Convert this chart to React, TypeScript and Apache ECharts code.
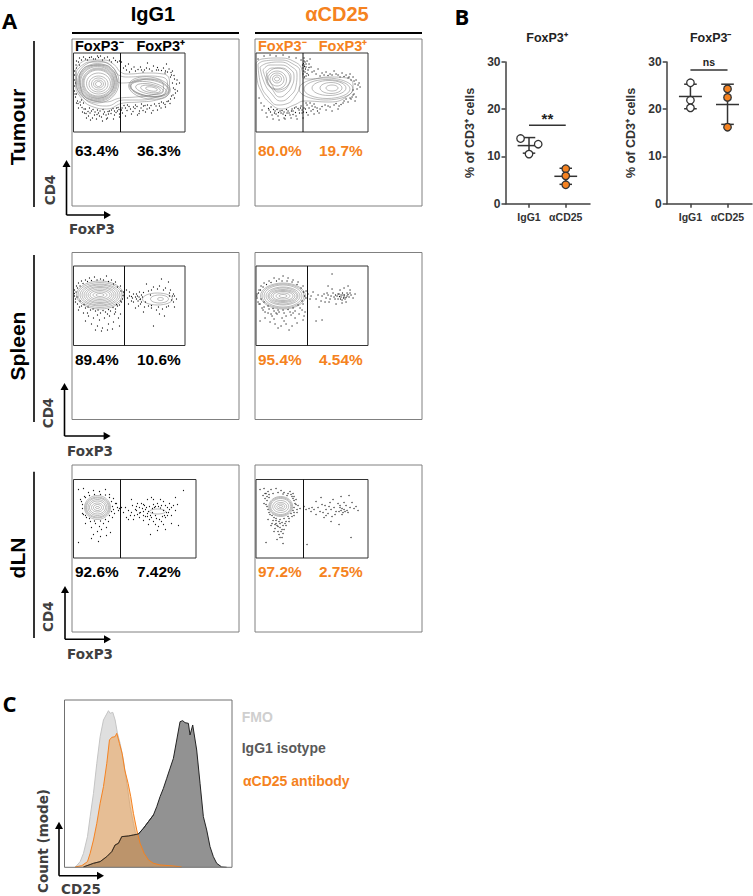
import React, { useEffect, useRef } from "react";
import * as echarts from "echarts";

const ORANGE = "#f58220";
const SANS = "'Liberation Sans', Arial, sans-serif";
const DV = "'DejaVu Sans', sans-serif";
const LETTER = "'Open Sans', sans-serif";

// ---------- Panel B values ----------
const groupLabels = ["IgG1", "αCD25"];
const posIgG1 = [[0.77, 13.8], [1.25, 12.6], [1, 10.5]];
const posCD25 = [[2, 7.4], [2, 5.9], [2, 4.0]];
const negIgG1 = [[1, 25.6], [1, 21.9], [1, 20.3]];
const negCD25 = [[2, 24.3], [2, 22.5], [2, 16.2]];
const posStats = [[1, 12.3, 10.7, 14.0], [2, 5.8, 4.1, 7.5]];
const negStats = [[1, 22.7, 20.1, 25.3], [2, 21.0, 16.8, 25.3]];
const posSig = [[1, 16.6], [2, 16.6]];
const negSig = [[1, 28.3], [2, 28.3]];

// ---------- Panel C histograms ----------
const histFMO = [[32,0],[47,17],[57,42],[69,92],[77,152],[87,222],[97,312],[107,392],[117,442],[125,457],[132,470],[137,462],[145,465],[152,442],[159,402],[167,372],[177,322],[187,252],[197,182],[207,132],[217,82],[227,42],[237,17],[252,2],[267,0]];
const histCD25 = [[32,1],[52,5],[69,17],[77,42],[87,82],[97,132],[107,192],[117,242],[127,312],[135,382],[142,390],[152,392],[157,402],[165,372],[173,342],[181,292],[191,252],[199,212],[207,162],[217,112],[227,72],[239,42],[252,22],[267,12],[287,7],[327,4],[352,1]];
const histIso = [[57,1],[87,12],[107,17],[127,32],[142,47],[152,67],[162,72],[172,92],[192,94],[207,97],[222,100],[237,117],[252,137],[267,157],[277,182],[287,212],[297,237],[307,267],[317,297],[327,327],[337,382],[347,437],[355,440],[362,434],[372,432],[377,397],[385,427],[397,352],[407,252],[417,152],[427,112],[437,62],[447,32],[457,12],[472,1],[487,0]];

// ---------- Panel A: percentages ----------
const pctLabels = [
  ["63.4%", "36.3%"], ["80.0%", "19.7%"],
  ["89.4%", "10.6%"], ["95.4%", "4.54%"],
  ["92.6%", "7.42%"], ["97.2%", "2.75%"],
];

// ---------- Panel A: contour rings [cx, cy, rx, ry, rotationDeg] and loops, event dots ----------
const ringsTumIgG = [[25,31,3,2.5,0],[25,31,5,4,0],[25,31,7,6,0],[25,31,9.5,8,0],[25,30.5,12,10.5,0],[24.5,30,14,13,0],[24.5,30,15,14,0],[24.5,30,16,15,0],[24,29.5,17,16,0],[24,29.5,18,17,0],[24,29.5,19,18,0],[24,29.5,20,19,0],[24,29,21.5,21,0],[78,36,6,2,-10],[77,36,10,3.5,-10],[76,36,14,5,-10],[75,36,18,7,-10],[76,35,19,8,-8],[76,35,20,9,-8],[76,35,21,11,-8]];
const loopsTumIgG = [
  [[2,17],[7,10],[17,7],[30,7],[41,12],[47,19],[55,21],[73,20],[90,21],[96,29],[95,40],[83,47],[66,49],[50,50],[33,56],[20,54],[7,44],[2,30],[2,17]],
  [[3,18],[9,12],[17,9],[30,9],[39,14],[45,22],[55,24],[73,23],[88,24],[94,30],[92,39],[80,45],[65,47],[50,47],[33,53],[20,51],[8,42],[3,30],[3,18]],
  [[6,22],[14,13],[30,12],[40,18],[47,30],[60,29],[75,26],[88,28],[90,36],[78,42],[62,44],[47,45],[32,49],[18,47],[8,38],[6,22]],
];
const dotsTumIgG = [[3,8],[6,5],[10,4],[14,7],[18,4],[22,6],[27,3],[31,5],[36,7],[40,5],[44,9],[47,13],[50,15],[53,17],[58,16],[62,18],[67,14],[71,17],[76,16],[80,13],[85,17],[90,15],[94,19],[98,22],[101,26],[99,18],[103,31],[100,35],[104,38],[98,43],[101,45],[95,48],[90,50],[86,53],[81,51],[76,55],[70,53],[66,58],[62,52],[57,56],[52,55],[49,60],[47,53],[44,58],[41,62],[38,57],[35,61],[31,59],[28,64],[25,60],[21,62],[18,58],[15,63],[12,56],[9,59],[7,52],[4,48],[2,44],[1,38],[5,55],[10,50],[13,65],[17,67],[23,66],[29,68],[34,65],[40,66],[46,64],[52,63],[58,61],[64,62],[72,59],[78,60],[84,57],[92,54],[2,30],[1,22],[3,15],[106,30],[93,11],[74,10],[55,11],[11,60],[16,55],[24,57],[30,61],[36,58],[43,55],[48,57],[54,52],[60,54],[68,51],[74,52],[88,49],[97,46],[102,40],[99,30],[97,24],[92,18],[83,17],[68,17],[48,9],[38,9],[24,3],[6,12],[8,47],[3,41],[19,65],[33,66],[41,58],[46,61],[26,63],
  [4.5,50.5],[6.5,49],[8.5,54.5],[10.5,56],[12.5,60.5],[14.5,58.5],[16.5,60],[19.5,56.5],[21.5,59],[23.5,61.5],[26.5,58],[29.5,56.5],[32.5,62],[34.5,58.5],[37.5,60.5],[39.5,55.5],[42.5,59.5],[44.5,54.5],[45.5,56.5],[48.5,55],[50.5,52.5],[53.5,57.5],[55.5,53.5],[59.5,58.5],[61.5,55.5],[63.5,53.5],[65.5,60.5],[67.5,55],[69.5,57.5],[71.5,52.5],[73.5,56],[77.5,52.5],[79.5,57.5],[82.5,53],[85.5,50.5],[87.5,55],[91.5,51.5],[93.5,48.5],[96.5,50.5],[99.5,42],[101.5,36.5],[103.5,27],[100.5,22.5],[97.5,19.5],[95.5,16],[91.5,20],[88,17.5],[84,14.5],[78.5,18],[73,15],[69.5,19],[64.5,16.5],[60.5,14],[56,19],[52,13],[46,8],[42,7.5],[34,4],[29,7],[25,4.5],[20,6],[16,4.5],[12,6],[8,7],[5,9],[2.5,12],[1,18],[0.8,27],[0.8,33],[1.5,41],[3,50]];

const ringsTumCD = [[21,26,2.5,2,0],[21,26,4.5,4,0],[21,26.5,7,6.5,0],[21,27,9.5,9,0],[22,26,12,11,0],[76,35,6,3,0],[75,35,11,5.5,0],[73,35,17,7.5,0],[71,36,23,9.5,0],[70,36,27,11,0]];
const loopsTumCD = [
  [[0,10],[6,6],[23,5],[39,9],[46,17],[47,25],[54,26],[73,24],[91,25],[97,32],[93,42],[73,49],[49,48],[38,52],[26,56],[14,50],[5,38],[1,25],[0,10]],
  [[2,11],[8,8],[24,7],[37,11],[44,19],[44,30],[40,42],[30,51],[22,52],[12,44],[5,32],[2,11]],
  [[4,14],[12,10],[24,9],[36,14],[41,21],[40,33],[33,44],[25,48],[15,40],[8,29],[4,14]],
  [[7,17],[14,12],[25,12],[34,16],[38,23],[36,33],[30,41],[24,44],[16,36],[10,26],[7,17]],
  [[10,19],[16,15],[25,15],[32,18],[35,24],[32,33],[27,38],[22,39],[16,32],[12,25],[10,19]],
];
const dotsTumCD = [[2,6],[8,3],[14,2],[20,3],[27,2],[33,4],[40,5],[45,7],[48,5],[51,8],[54,6],[48,12],[47,15],[49,19],[50,14],[52,17],[55,14],[58,18],[62,16],[66,20],[70,19],[74,21],[78,18],[82,22],[86,20],[90,22],[94,21],[97,24],[100,27],[103,30],[99,31],[101,36],[104,34],[98,41],[100,44],[95,46],[92,49],[87,50],[83,53],[78,52],[74,54],[69,52],[64,56],[59,54],[55,58],[51,52],[48,55],[46,60],[43,57],[40,63],[37,58],[34,62],[31,60],[28,65],[25,60],[22,63],[19,58],[16,62],[13,57],[10,60],[8,53],[5,50],[3,45],[6,57],[11,64],[17,66],[23,67],[29,66],[35,65],[41,66],[47,65],[52,62],[58,61],[63,60],[70,57],[76,58],[82,56],[40,54],[45,53],[50,50],[54,50],[58,51],[36,56],[32,58],[24,58],[27,61],[20,61],[15,54],[49,9],[53,11],[47,21],[50,23],[48,8],[95,27],[93,24],[97,37],[96,44],[99,48],[90,46],
  [47.5,10.5],[48.5,13.5],[49.5,16],[47.8,18],[51,20.5],[52.5,22],[48.5,24],[46.5,12],[50,11],[53,14.5],[12.5,55.5],[14.5,59],[17.5,56.5],[18.5,60],[21,56.5],[22.5,59.5],[26,57.5],[28,59],[29.5,62.5],[30.5,56.5],[33,60],[35.5,58],[37,61.5],[38.5,55],[39.5,59.5],[42,55.5],[43.5,60],[44.5,55],[46,57],[47.5,59],[49.5,56],[50.5,59.5],[53,55],[56,53],[57,56.5],[61,55],[61.5,58],[66,53.5],[72,53],[80,50.5],[85,51.5],[88,48],[94,45],[97,42],[102,32],[98,28],[92,25],[88,23.5],[84,24],[80,21],[76,22],[72,22.5],[68,22],[64,23],[60,21],[56,19]];

const ringsSplIgG = [[26.5,29,4,1.5,0],[26.5,29,7,3,0],[26.5,29,10,4.5,0],[26.5,29,12,6,0],[26.5,29,14,7.5,0],[26.5,29,16,8.5,0],[26.5,29,18,10,0],[26.5,29,20,11,0],[26.5,29,22,12.5,0],[26.5,29,23.5,14,0],[87,33,3,1.5,0],[86,33,9,4,0],[84,33,15,6,0]];
const loopsSplIgG = [];
const dotsSplIgG = [[1,24],[1,30],[2,33],[3,20],[5,17],[8,15],[12,14],[16,12],[21,11],[27,13],[33,10],[38,14],[42,16],[47,20],[50,26],[49,33],[46,39],[42,43],[37,45],[32,46],[27,47],[22,45],[17,44],[12,42],[8,40],[4,38],[10,47],[15,50],[20,52],[26,54],[31,52],[36,50],[41,48],[45,52],[12,55],[18,58],[24,60],[29,62],[35,58],[40,56],[46,60],[28,65],[34,64],[22,64],[39,63],[5,44],[47,48],[44,40],[48,36],[53,24],[56,30],[60,28],[63,33],[58,35],[66,26],[69,31],[72,36],[75,25],[71,41],[78,42],[83,44],[89,43],[95,40],[98,34],[100,28],[97,24],[92,22],[86,20],[80,21],[73,18],[88,13],[95,16],[55,38],[62,42],[67,38],[103,33],[101,41],[77,29],[64,30],[68,29],[56,26],[59,32],[70,46],[80,60],[91,50],[86,48],[75,40],[99,30],[96,30],[60,36],[65,40],
  [0.8,27.5],[2.5,26],[4,22],[6.5,20],[9.5,17.5],[14,15.5],[18,14.5],[23.5,14],[30,14],[35,15.5],[40,18],[44,21],[47.5,25],[49.5,29.5],[47,35],[43,38.5],[39.5,41.5],[35,43.5],[29.5,44.5],[24.5,44],[19.5,43],[14.5,41],[10.5,38.5],[6.5,35],[3.5,31],[2,36],[6,41],[14,47],[24,49],[34,48],[42,46],[66.5,33.5],[65.5,31],[62,31],[58,30.5],[54,32],[68,36],[70,26.5],[78,24],[84,23],[90,24],[96,27],[101,30],[100,36],[93,41],[85,41],[78,39.5],[67,33],[64.5,35],[63,28]];

const ringsSplCD = [[27,30,4,1.5,0],[27,30,7,3,0],[27,30,10,4.5,0],[27,30,12,5.5,0],[27,30,14,6.5,0],[27,30,15,8,0],[27,30,17,9,0],[27,30,19,11,0],[27,30,21,12,0],[27,30,22.5,13,0]];
const loopsSplCD = [];
const dotsSplCD = [[1,28],[1,32],[2,36],[3,24],[5,20],[8,17],[13,15],[18,12],[23,13],[27,10],[32,12],[37,14],[42,16],[47,20],[50,25],[50,32],[47,38],[44,42],[39,45],[34,46],[28,47],[23,46],[18,45],[13,43],[8,41],[4,38],[7,44],[12,47],[16,50],[21,48],[26,52],[30,50],[35,49],[39,52],[43,48],[46,44],[9,52],[14,56],[19,58],[25,60],[30,58],[36,60],[41,57],[47,54],[22,62],[33,64],[4,55],[48,50],[18,53],[28,55],[55,30],[57,26],[60,33],[62,29],[65,35],[68,28],[70,32],[73,36],[75,30],[77,27],[79,33],[81,30],[83,28],[85,31],[87,29],[89,33],[91,27],[93,31],[95,29],[97,32],[99,28],[84,24],[88,22],[92,20],[80,38],[86,37],[76,23],[71,27],[63,41],[60,55],[66,54],[76,8],[72,20],[90,36],[94,24],[82,33],[85,29],[88,31],[86,34],[91,30],
  [0.8,30],[2.5,27],[4.5,24],[7,21],[10.5,18.5],[15,16.5],[20.5,15],[26,15],[31,15],[36,16],[41,18.5],[45,22],[47.5,26],[48.5,30],[46,35],[42,39],[37,42],[32,43.5],[27,44],[22,44],[17,42.5],[12,40],[8,36],[5,33],[3,38],[6,42],[9,46],[15,48],[20,47],[37,47],[49,46],[52,28],[54,33],[84.5,33],[86.5,27],[88.5,29],[83.5,30.5],[90,31.5],[92,28.5],[87.5,32],[82,28],[79.5,29],[94,27],[78,31],[74,33],[72,29],[69,36],[66,30]];

const ringsDlnIgG = [[24,28,2,1,0],[24,28,4,3,0],[24,28,6,4.5,0],[24,28,8,6.5,0],[24,28,9.5,8,0],[24,28,11,9.5,0],[24,28,12,10.5,0],[24,28,13,12,0],[84,32,8,2.5,0]];
const loopsDlnIgG = [];
const dotsDlnIgG = [[5,10],[10,9],[11,17],[15,13],[20,11],[26,12],[32,10],[36,15],[40,19],[42,24],[44,28],[41,34],[39,38],[35,42],[30,44],[26,47],[22,44],[17,42],[13,38],[9,34],[9,25],[7,20],[12,44],[18,48],[24,52],[28,50],[33,48],[37,53],[20,55],[27,57],[5,63],[18,59],[25,62],[33,56],[45,31],[50,33],[52,28],[55,31],[57,36],[59,26],[62,30],[64,35],[66,28],[68,24],[70,32],[72,37],[74,20],[76,27],[78,18],[80,25],[82,36],[84,24],[86,40],[88,26],[90,22],[92,38],[94,28],[96,24],[98,36],[100,26],[102,31],[104,25],[102,18],[98,44],[90,45],[85,47],[80,42],[75,45],[70,41],[66,38],[60,40],[80,20],[87,20],[75,32],[79,33],[93,33],[90,31],[95,33],[70,25],[64,24],[55,40],[77,55],[84,51],[92,50],[105,46],[110,11],[58,20],[53,38],[73,28],[81,28],
  [9,29],[10,35],[8,22],[12,18],[16,16],[21,15],[27,15],[32,15.5],[36,18],[38,22],[39,27],[38,32],[36,36],[32,40],[27,41.5],[21,41.5],[16,39],[12,36],[40,30],[43,24],[46,29],[48,28],[58,33],[61,36],[63,31],[67,33],[69,29],[71,26],[74,34],[77,36],[79,29],[82,27],[85,27],[87,28.5],[89,37],[91,36],[94,36],[74,37],[78,38],[83,39],[88,42],[70,36],[72,30],[92,26],[96,30],[98,28],[63,27],[66,33.5],[82,45],[76,40]];

const ringsDlnCD = [[24.7,27,2,1,0],[24.7,27,4,2.5,0],[24.7,27,6,4,0],[24.7,27,8,6,0],[24.7,27,10,8,0],[24.7,27,11,9,0],[24.7,27,12,10,0]];
const loopsDlnCD = [];
const dotsDlnCD = [[4,10],[8,9],[12,12],[15,10],[20,9],[25,11],[28,13],[32,14],[36,17],[38,21],[40,25],[41,30],[38,33],[36,37],[33,39],[30,42],[27,46],[24,44],[20,41],[18,38],[14,35],[12,30],[10,25],[9,19],[7,16],[11,17],[8,24],[37,14],[34,12],[16,44],[19,49],[22,47],[25,52],[28,50],[23,55],[26,58],[21,60],[18,52],[15,46],[30,46],[12,40],[10,63],[27,64],[44,29],[48,27],[50,30],[53,29],[55,32],[58,30],[60,35],[62,28],[64,32],[66,25],[68,38],[70,30],[72,34],[74,23],[76,37],[78,28],[80,32],[82,24],[84,28],[86,35],[88,30],[90,26],[92,33],[94,28],[96,23],[98,29],[100,27],[102,31],[85,17],[93,16],[77,20],[65,18],[88,23],[85,31],[87,33],[91,31],[83,45],[95,58],[51,65],[75,42],[60,22],[70,36],
  [10,14],[13,15],[17,14],[22,13],[27,14.5],[31,16],[35,15],[37,19],[39,24],[38,28],[37,31],[35,34],[32,37],[28,39],[24,40],[20,39],[16,36],[13,33],[11,27],[11,21],[13,18],[9,14],[38,17],[40,20],[42,26],[41,33],[38,36],[17,41],[20,44],[23,42],[26,43],[29,44],[21,46],[24,48],[26,50],[22,52],[27,54],[24,58],[19,45],[33,42],[86,29],[89,32],[83,32],[84,26],[79,35],[73,27],[67,33],[69,26],[56,28],[75,30]];

const plots = [
  { left: 73.5, top: 53, w: 111.5, h: 79, split: 47, rings: ringsTumIgG, loops: loopsTumIgG, dots: dotsTumIgG },
  { left: 256, top: 53, w: 112, h: 79, split: 47, rings: ringsTumCD, loops: loopsTumCD, dots: dotsTumCD },
  { left: 73.5, top: 266, w: 111.5, h: 79.5, split: 51, rings: ringsSplIgG, loops: loopsSplIgG, dots: dotsSplIgG },
  { left: 256, top: 266, w: 112, h: 79.5, split: 51.5, rings: ringsSplCD, loops: loopsSplCD, dots: dotsSplCD },
  { left: 73.5, top: 479.5, w: 122.5, h: 78.5, split: 47, rings: ringsDlnIgG, loops: loopsDlnIgG, dots: dotsDlnIgG },
  { left: 256, top: 479.5, w: 112, h: 78.5, split: 47.5, rings: ringsDlnCD, loops: loopsDlnCD, dots: dotsDlnCD },
];
const frames = [
  [72, 39], [255, 39], [72, 252.5], [255, 252.5], [72, 465], [255, 465],
];
const pctY = [150.7, 150.7, 359, 359, 571.7, 571.7];
const rowLabels = [
  { text: "Tumour", y: 127, y0: 41, y1: 207 },
  { text: "Spleen", y: 346, y0: 255, y1: 422 },
  { text: "dLN", y: 558, y0: 471.7, y1: 638 },
];
const arrows = [
  { x: 66.5, top: 160, y: 215, right: 111, cd4X: 50, cd4Y: 190, fX: 92, fY: 229 },
  { x: 64.5, top: 383, y: 436, right: 110.6, cd4X: 48, cd4Y: 413, fX: 90, fY: 450.7 },
  { x: 65, top: 586, y: 639.3, right: 111, cd4X: 48, cd4Y: 616.7, fX: 90, fY: 654 },
];

function ringItem(params: any, api: any) {
  const c = api.coord([api.value(0), api.value(1)]);
  const s = api.size([api.value(2), api.value(3)]);
  return {
    type: "ellipse", x: c[0], y: c[1], rotation: (api.value(4) * Math.PI) / 180,
    shape: { cx: 0, cy: 0, rx: s[0], ry: s[1] },
    style: { fill: "none", stroke: "#777", lineWidth: 0.5 },
  };
}

function statItem(params: any, api: any) {
  const x = api.value(0);
  const seg = (x0: number, y0: number, x1: number, y1: number) => {
    const a = api.coord([x0, y0]);
    const b = api.coord([x1, y1]);
    return { type: "line", shape: { x1: a[0], y1: a[1], x2: b[0], y2: b[1] }, style: { stroke: "#333", lineWidth: 1.5 } };
  };
  return {
    type: "group",
    children: [
      seg(x - 0.31, api.value(1), x + 0.31, api.value(1)),
      seg(x - 0.17, api.value(2), x + 0.17, api.value(2)),
      seg(x - 0.17, api.value(3), x + 0.17, api.value(3)),
      seg(x, api.value(2), x, api.value(3)),
    ],
  };
}

function txt(text: string, x: number, y: number, font: string, size: number, fill: string, opts: any = {}) {
  const { rotation, align, ...rest } = opts;
  return {
    type: "text", x, y, rotation: rotation || 0, z: 20,
    style: { text, fontFamily: font, fontSize: size, fontWeight: "bold", fill, align: align || "center", verticalAlign: "middle", ...rest },
  };
}
function seg(x1: number, y1: number, x2: number, y2: number, stroke: string, lineWidth: number) {
  return { type: "line", z: 15, shape: { x1, y1, x2, y2 }, style: { stroke, lineWidth } };
}
function head(pts: number[][]) {
  return { type: "polygon", z: 15, shape: { points: pts }, style: { fill: "#000" } };
}

function buildOption() {
  const grid: any[] = [];
  const xAxis: any[] = [];
  const yAxis: any[] = [];
  const series: any[] = [];
  const graphic: any[] = [];

  plots.forEach((p, i) => {
    grid.push({ left: p.left, top: p.top, width: p.w, height: p.h });
    xAxis.push({ type: "value", gridIndex: i, min: 0, max: p.w, show: false });
    yAxis.push({ type: "value", gridIndex: i, min: 0, max: p.h, inverse: true, show: false });
    series.push({ type: "scatter", xAxisIndex: i, yAxisIndex: i, data: p.dots, symbolSize: 1.2, itemStyle: { color: "#111", opacity: 1 }, silent: true });
    series.push({ type: "custom", xAxisIndex: i, yAxisIndex: i, data: p.rings, renderItem: ringItem, silent: true });
    p.loops.forEach((loop) => {
      series.push({ type: "line", xAxisIndex: i, yAxisIndex: i, data: loop, smooth: 0.5, showSymbol: false, lineStyle: { color: "#777", width: 0.5 }, silent: true });
    });

    const [fx, fy] = frames[i];
    graphic.push({ type: "rect", z: 12, shape: { x: fx, y: fy, width: 167, height: 167 }, style: { fill: "none", stroke: "#808080", lineWidth: 1 } });
    graphic.push({ type: "rect", z: 14, shape: { x: p.left, y: p.top, width: p.w, height: p.h }, style: { fill: "none", stroke: "#333", lineWidth: 1 } });
    graphic.push(seg(p.left + p.split, p.top, p.left + p.split, p.top + p.h, "#111", 1));
    const col = i % 2 === 0 ? "#000" : ORANGE;
    const x0 = i % 2 === 0 ? 75 : 258;
    const x1 = i % 2 === 0 ? 137 : 319;
    graphic.push(txt(pctLabels[i][0], x0, pctY[i], SANS, 15.4, col, { align: "left" }));
    graphic.push(txt(pctLabels[i][1], x1, pctY[i], SANS, 15.4, col, { align: "left" }));
  });

  // Panel B
  const bGrids = [
    { left: 505.5, width: 84.5, a: posIgG1, b: posCD25, stats: posStats, sig: posSig, sigText: "**", sigY: 18.0, sigSize: 15 },
    { left: 666.7, width: 85.3, a: negIgG1, b: negCD25, stats: negStats, sig: negSig, sigText: "ns", sigY: 30, sigSize: 10.5 },
  ];
  bGrids.forEach((b, j) => {
    const g = plots.length + j;
    grid.push({ left: b.left, top: 62, width: b.width, height: 141.7 });
    xAxis.push({
      type: "value", gridIndex: g, min: 0.36, max: 2.66, splitLine: { show: false },
      axisLine: { lineStyle: { color: "#404040", width: 1.5 } },
      axisTick: { customValues: [1, 2], length: 4, lineStyle: { color: "#404040", width: 1.5 } },
      axisLabel: { customValues: [1, 2], formatter: (v: number) => groupLabels[Math.round(v) - 1], fontFamily: SANS, fontWeight: "bold", fontSize: 10.5, color: "#333", margin: 8 },
    });
    yAxis.push({
      type: "value", gridIndex: g, min: 0, max: 30, interval: 10, splitLine: { show: false },
      axisLine: { show: true, lineStyle: { color: "#404040", width: 1.5 } },
      axisTick: { show: true, length: 4, lineStyle: { color: "#404040", width: 1.5 } },
      axisLabel: { fontFamily: SANS, fontWeight: "bold", fontSize: 12, color: "#333", margin: 5 },
      name: "% of CD3⁺ cells", nameLocation: "middle", nameGap: 29, nameRotate: 90,
      nameTextStyle: { fontFamily: SANS, fontWeight: "bold", fontSize: 12.5, color: "#333" },
    });
    series.push({ type: "custom", xAxisIndex: g, yAxisIndex: g, data: b.stats, renderItem: statItem, z: 3, silent: true });
    series.push({ type: "scatter", xAxisIndex: g, yAxisIndex: g, data: b.a, symbolSize: 7.5, z: 4, itemStyle: { color: "#fff", borderColor: "#333", borderWidth: 1.3, opacity: 1 }, silent: true });
    series.push({ type: "scatter", xAxisIndex: g, yAxisIndex: g, data: b.b, symbolSize: 7.5, z: 4, itemStyle: { color: ORANGE, borderColor: "#333", borderWidth: 1.3, opacity: 1 }, silent: true });
    series.push({ type: "line", xAxisIndex: g, yAxisIndex: g, data: b.sig, showSymbol: false, lineStyle: { color: "#333", width: 1.5 }, silent: true });
    series.push({
      type: "scatter", xAxisIndex: g, yAxisIndex: g, data: [[1.5, b.sigY]], symbolSize: 0, silent: true, clip: false,
      itemStyle: { opacity: 1 },
      label: { show: true, position: "inside", formatter: b.sigText, fontFamily: SANS, fontWeight: "bold", fontSize: b.sigSize, color: "#222" },
    });
  });

  // Panel C
  const c = plots.length + 2;
  grid.push({ left: 64.5, top: 700, width: 167.5, height: 167.3 });
  xAxis.push({ type: "value", gridIndex: c, min: 0, max: 503, show: false });
  yAxis.push({ type: "value", gridIndex: c, min: 0, max: 502, show: false });
  series.push({ type: "line", xAxisIndex: c, yAxisIndex: c, data: histFMO, showSymbol: false, z: 2, lineStyle: { color: "#c4c4c4", width: 1 }, areaStyle: { color: "#dfdfdf", opacity: 1 }, silent: true });
  series.push({ type: "line", xAxisIndex: c, yAxisIndex: c, data: histIso, showSymbol: false, z: 3, lineStyle: { color: "#222", width: 1 }, areaStyle: { color: "#929292", opacity: 1 }, silent: true });
  series.push({ type: "line", xAxisIndex: c, yAxisIndex: c, data: histCD25, showSymbol: false, z: 4, lineStyle: { color: ORANGE, width: 1 }, areaStyle: { color: "#f0963c", opacity: 0.45 }, silent: true });
  series.push({ type: "line", xAxisIndex: c, yAxisIndex: c, data: histIso.slice(0, 14), showSymbol: false, z: 5, lineStyle: { color: "#222", width: 0.8 }, silent: true });
  graphic.push({ type: "rect", z: 12, shape: { x: 64.5, y: 700, width: 167.5, height: 167.3 }, style: { fill: "none", stroke: "#707070", lineWidth: 1 } });

  // Headers
  graphic.push(txt("IgG1", 153, 14, SANS, 20, "#000"));
  graphic.push(txt("αCD25", 337, 14, SANS, 20, ORANGE));
  graphic.push(seg(72, 33, 239, 33, "#000", 2));
  graphic.push(seg(255, 33, 422, 33, "#000", 2));
  graphic.push(txt("A", 9.5, 20, LETTER, 22, "#000"));
  graphic.push(txt("B", 462, 16, LETTER, 22, "#000"));
  graphic.push(txt("C", 9.5, 703, LETTER, 22, "#000"));

  // Gate headers
  graphic.push(txt("FoxP3⁻", 75, 46, SANS, 14.5, "#000", { align: "left" }));
  graphic.push(txt("FoxP3⁺", 136.5, 46, SANS, 14.5, "#000", { align: "left" }));
  graphic.push(txt("FoxP3⁻", 258, 46, SANS, 14.5, ORANGE, { align: "left" }));
  graphic.push(txt("FoxP3⁺", 318.7, 46, SANS, 14.5, ORANGE, { align: "left" }));

  // Row labels
  rowLabels.forEach((r) => {
    graphic.push(txt(r.text, 17, r.y, SANS, 21, "#000", { rotation: Math.PI / 2 }));
    graphic.push(seg(34, r.y0, 34, r.y1, "#000", 1.6));
  });

  // Axes arrows
  arrows.forEach((a) => {
    graphic.push(seg(a.x, a.top + 6, a.x, a.y, "#000", 1.6));
    graphic.push(seg(a.x, a.y, a.right - 6, a.y, "#000", 1.6));
    graphic.push(head([[a.x - 4, a.top + 7], [a.x + 4, a.top + 7], [a.x, a.top]]));
    graphic.push(head([[a.right - 7, a.y - 4], [a.right - 7, a.y + 4], [a.right, a.y]]));
    graphic.push(txt("CD4", a.cd4X, a.cd4Y, DV, 13.5, "#404040", { rotation: Math.PI / 2 }));
    graphic.push(txt("FoxP3", a.fX, a.fY, DV, 13.5, "#404040"));
  });

  // Panel B titles
  graphic.push(txt("FoxP3⁺", 547, 38, SANS, 12.5, "#222"));
  graphic.push(txt("FoxP3⁻", 710.7, 38, SANS, 12.5, "#222"));

  // Panel C labels
  graphic.push(txt("FMO", 241.7, 716.7, SANS, 14, "#cfcfcf", { align: "left" }));
  graphic.push(txt("IgG1 isotype", 241.7, 747.7, SANS, 14, "#595959", { align: "left" }));
  graphic.push(txt("αCD25 antibody", 243, 781, SANS, 14, ORANGE, { align: "left" }));
  graphic.push(seg(59, 827, 59, 875.7, "#000", 1.6));
  graphic.push(seg(59, 875.7, 98, 875.7, "#000", 1.6));
  graphic.push(head([[55, 829], [63, 829], [59, 821.7]]));
  graphic.push(head([[97, 871.7], [97, 879.7], [104, 875.7]]));
  graphic.push(txt("Count (mode)", 42.7, 841, DV, 13.5, "#404040", { rotation: Math.PI / 2 }));
  graphic.push(txt("CD25", 81, 888.5, DV, 13.5, "#404040"));

  return { animation: false, backgroundColor: "#fff", grid, xAxis, yAxis, series, graphic };
}

export default function App() {
  const ref = useRef<HTMLDivElement>(null);
  useEffect(() => {
    const chart = echarts.init(ref.current!, null, { renderer: "svg" });
    chart.setOption(buildOption() as any);
    return () => chart.dispose();
  }, []);
  return <div ref={ref} style={{ position: "absolute", left: 0, top: 0, width: 753, height: 896 }} />;
}
